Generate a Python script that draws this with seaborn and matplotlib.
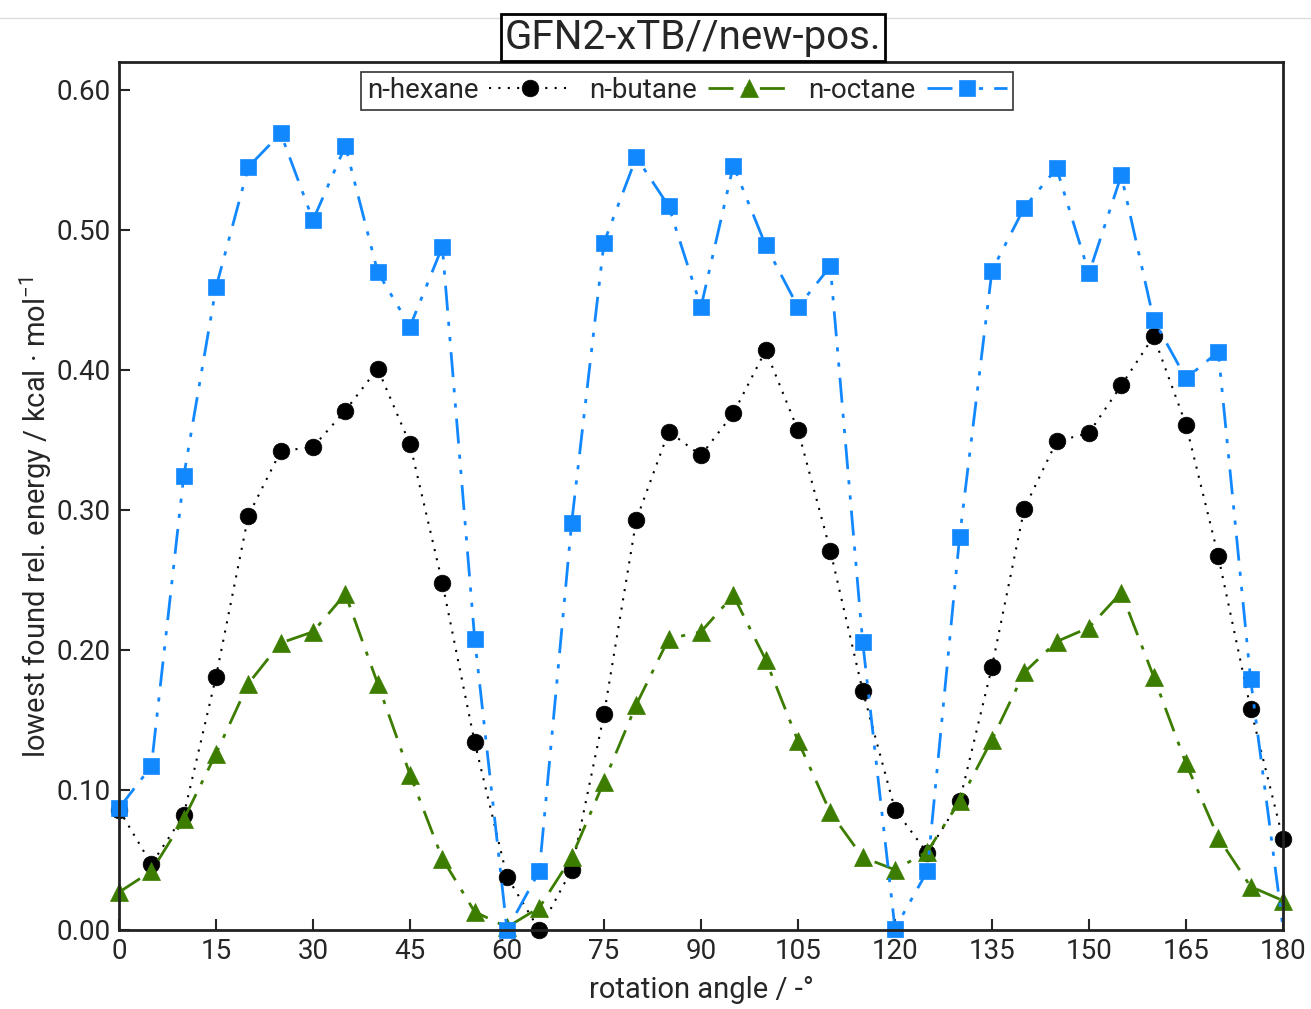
import numpy as np
import pandas as pd
import seaborn as sns
import matplotlib.pyplot as plt
from matplotlib.lines import Line2D

# rotation angles (deg)
angle = list(range(0, 181, 5))

# lowest found relative energies (kcal/mol)
hexane = [0.086, 0.047, 0.082, 0.181, 0.296, 0.342, 0.345, 0.371, 0.401, 0.347,
          0.248, 0.134, 0.038, 0.000, 0.043, 0.154, 0.293, 0.356, 0.339, 0.369,
          0.414, 0.357, 0.271, 0.171, 0.086, 0.055, 0.092, 0.188, 0.301, 0.349,
          0.355, 0.389, 0.424, 0.361, 0.267, 0.158, 0.065]
butane = [0.027, 0.042, 0.079, 0.126, 0.176, 0.205, 0.213, 0.240, 0.176, 0.111,
          0.051, 0.013, 0.002, 0.016, 0.052, 0.106, 0.161, 0.208, 0.213, 0.239,
          0.193, 0.135, 0.084, 0.052, 0.043, 0.056, 0.092, 0.136, 0.184, 0.206,
          0.216, 0.241, 0.181, 0.119, 0.066, 0.031, 0.021]
octane = [0.087, 0.117, 0.324, 0.459, 0.545, 0.569, 0.507, 0.560, 0.470, 0.431,
          0.488, 0.208, 0.000, 0.042, 0.291, 0.491, 0.552, 0.517, 0.445, 0.546,
          0.489, 0.445, 0.474, 0.206, 0.001, 0.042, 0.281, 0.471, 0.516, 0.544,
          0.469, 0.539, 0.436, 0.394, 0.413, 0.179, 0.002]

df = pd.DataFrame({"angle": angle, "n-hexane": hexane,
                   "n-butane": butane, "n-octane": octane})

sns.set_style("white")
plt.rcParams['font.family'] = ['Roboto', 'DejaVu Sans']

fig = plt.figure(figsize=(13.11, 10.09), dpi=100)
ax = fig.add_axes([0.0908, 0.0783, 0.8878, 0.8603])

green = "#3c7d00"
blue = "#1288ff"

sns.lineplot(data=df, x="angle", y="n-hexane", ax=ax, label="n-hexane",
             color="black", linestyle=(0, (1, 3.5)), lw=1.5,
             marker="o", markersize=12, markeredgecolor="black",
             markeredgewidth=0.5, clip_on=False)
sns.lineplot(data=df, x="angle", y="n-butane", ax=ax, label="n-butane",
             color=green, linestyle=(0, (9, 4, 1.5, 4)), lw=2,
             marker="^", markersize=13, markeredgecolor=green,
             markeredgewidth=0.5, clip_on=False)
sns.lineplot(data=df, x="angle", y="n-octane", ax=ax, label="n-octane",
             color=blue, linestyle=(0, (9, 4, 1.5, 4, 1.5, 4)), lw=2,
             marker="s", markersize=12, markeredgecolor=blue,
             markeredgewidth=0.5, markevery=list(range(36)), clip_on=False)

ax.set_xlim(0, 180)
ax.set_ylim(0, 0.62)
ax.set_xticks(np.arange(0, 181, 15))
ax.set_yticks(np.arange(0, 0.61, 0.1))
ax.set_yticklabels([f"{v:.2f}" for v in np.arange(0, 0.61, 0.1)])
ax.tick_params(direction="in", length=8, width=1.5, labelsize=20,
               bottom=True, left=True, pad=6)
for s in ax.spines.values():
    s.set_linewidth(2)
    s.set_color("#222222")

ax.set_xlabel("rotation angle / -°", fontsize=21, labelpad=8)
ax.set_ylabel("lowest found rel. energy / kcal · mol$^{\\mathregular{-1}}$",
              fontsize=21)
ax.yaxis.set_label_coords(-0.056, 0.476)

leg = ax.legend(loc="upper center", bbox_to_anchor=(0.488, 0.989), ncol=3,
                markerfirst=False, fontsize=20, frameon=True, fancybox=False,
                handlelength=2.9, columnspacing=0.7, handletextpad=0.4,
                borderpad=0.2, borderaxespad=0)
leg.get_frame().set_edgecolor("black")
leg.get_frame().set_linewidth(1.2)

fig.text(0.5286, 0.963, "GFN2-xTB//new-pos.", fontsize=29, ha="center",
         va="center",
         bbox=dict(boxstyle="square,pad=0.1", fc="white", ec="black", lw=2))
fig.add_artist(Line2D([0, 1], [0.982, 0.982], color="#dddddd", lw=1,
                      transform=fig.transFigure, zorder=0))

fig.savefig("out.png", dpi=100)
